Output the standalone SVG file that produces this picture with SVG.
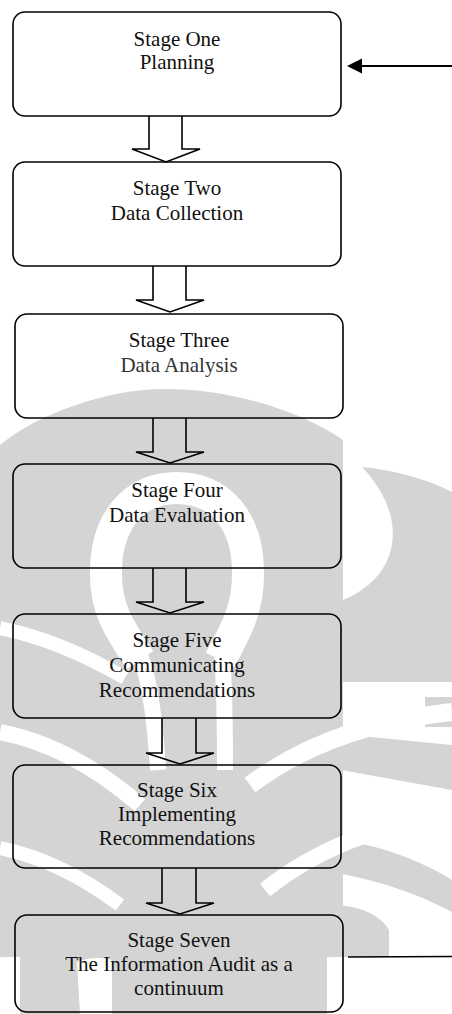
<svg xmlns="http://www.w3.org/2000/svg" width="452" height="1014" viewBox="0 0 452 1014">
<style>
.bg{fill:#fff}
.wm{fill:#d4d4d4}
.ws{fill:none;stroke:#fff}
.wf{fill:#fff}
.box{fill:none;stroke:#000;stroke-width:1.6}
.barrow{fill:none;stroke:#000;stroke-width:1.6;stroke-linejoin:miter}
.lbl{font-size:21px;fill:#111;text-anchor:middle}
.line{stroke:#000;fill:none}
</style>
<rect class="bg" x="0" y="0" width="452" height="1014"/>
<g id="watermark">
<path class="wm" d="M0,445 C40,412 110,389 165,389 C230,389 300,410 343,440 L343,1014 L0,1014 Z"/>
<path class="wm" d="M362,467 C392,470 425,478 452,492 L452,682 L343,682 L343,600 C398,578 412,520 362,467 Z"/>
<path class="wm" d="M330,733 L452,745 L452,790 L330,768 Z"/>
<path class="wm" d="M425,697 L452,697 L452,727 L425,727 Z"/>
<path class="wm" d="M330,838 C380,845 420,860 452,880 L452,912 C420,895 380,880 330,872 Z"/>
<path class="wm" d="M330,905 C360,905 380,915 389,930 L389,957 L330,957 Z"/>
<path class="ws" stroke-width="32" d="M140,660 C120,630 106,610 106,575 C105,520 135,488 177,488 C219,488 249,520 248,575 C248,610 235,632 220,660"/>
<path class="ws" stroke-width="16" d="M140,655 C150,680 155,720 158,770"/>
<path class="ws" stroke-width="16" d="M222,655 C225,690 225,730 225,770"/>
<path class="ws" stroke-width="14" d="M0,628 Q60,640 125,678"/>
<path class="ws" stroke-width="16" d="M0,732 Q70,745 140,805"/>
<path class="ws" stroke-width="14" d="M0,848 Q60,860 120,905"/>
<path class="ws" stroke-width="18" d="M452,712 Q330,725 250,785"/>
<path class="ws" stroke-width="16" d="M452,815 Q340,830 265,890"/>
<path class="wf" d="M0,957 L20,957 L20,1014 L0,1014 Z"/>
<path class="wf" d="M77,962 Q95,955 112,960 L112,1014 L80,1014 Z"/>
<path class="wf" d="M327,957 L452,957 L452,1014 L327,1014 Z"/>
</g>
<g id="connectors">
<path class="barrow" d="M149,116 L149,149 L132,149 L166,162 L200,149 L182,149 L182,116"/>
<path class="barrow" d="M153,266 L153,300 L136,300 L170,312 L204,300 L186,300 L186,266"/>
<path class="barrow" d="M153,418 L153,452 L136,452 L170,463 L204,452 L186,452 L186,418"/>
<path class="barrow" d="M153,568 L153,602 L136,602 L170,613 L204,602 L186,602 L186,568"/>
<path class="barrow" d="M162,718 L162,753 L146,753 L180,764 L214,753 L196,753 L196,718"/>
<path class="barrow" d="M162,868 L162,903 L146,903 L180,914 L214,903 L196,903 L196,868"/>
<line class="line" x1="452" y1="66" x2="362" y2="66" stroke-width="2"/>
<path d="M347,66 L362,58.5 L362,73.5 Z" fill="#000"/>
<line class="line" x1="348" y1="957" x2="452" y2="956.5" stroke-width="1.3"/>
</g>
<g font-family="Liberation Serif, Times New Roman, serif">
<g id="stage1">
<rect class="box" x="13" y="12" width="328" height="104" rx="12"/>
<text class="lbl" x="177" y="46">Stage One</text>
<text class="lbl" x="177" y="69">Planning</text>
</g>
<g id="stage2">
<rect class="box" x="13" y="162" width="328" height="104" rx="12"/>
<text class="lbl" x="177" y="195">Stage Two</text>
<text class="lbl" x="177" y="220">Data Collection</text>
</g>
<g id="stage3">
<rect class="box" x="15" y="314" width="328" height="104" rx="12"/>
<text class="lbl" x="179" y="347">Stage Three</text>
<text class="lbl" x="179" y="372" style="fill:#333">Data Analysis</text>
</g>
<g id="stage4">
<rect class="box" x="13" y="464" width="328" height="104" rx="12"/>
<text class="lbl" x="177" y="497">Stage Four</text>
<text class="lbl" x="177" y="522">Data Evaluation</text>
</g>
<g id="stage5">
<rect class="box" x="13" y="614" width="328" height="104" rx="12"/>
<text class="lbl" x="177" y="647">Stage Five</text>
<text class="lbl" x="177" y="672">Communicating</text>
<text class="lbl" x="177" y="697">Recommendations</text>
</g>
<g id="stage6">
<rect class="box" x="13" y="765" width="328" height="103" rx="12"/>
<text class="lbl" x="177" y="797">Stage Six</text>
<text class="lbl" x="177" y="821">Implementing</text>
<text class="lbl" x="177" y="845">Recommendations</text>
</g>
<g id="stage7">
<rect class="box" x="15" y="915" width="328" height="97" rx="12"/>
<text class="lbl" x="179" y="947">Stage Seven</text>
<text class="lbl" x="179" y="971">The Information Audit as a</text>
<text class="lbl" x="179" y="995">continuum</text>
</g>
</g>
</svg>
